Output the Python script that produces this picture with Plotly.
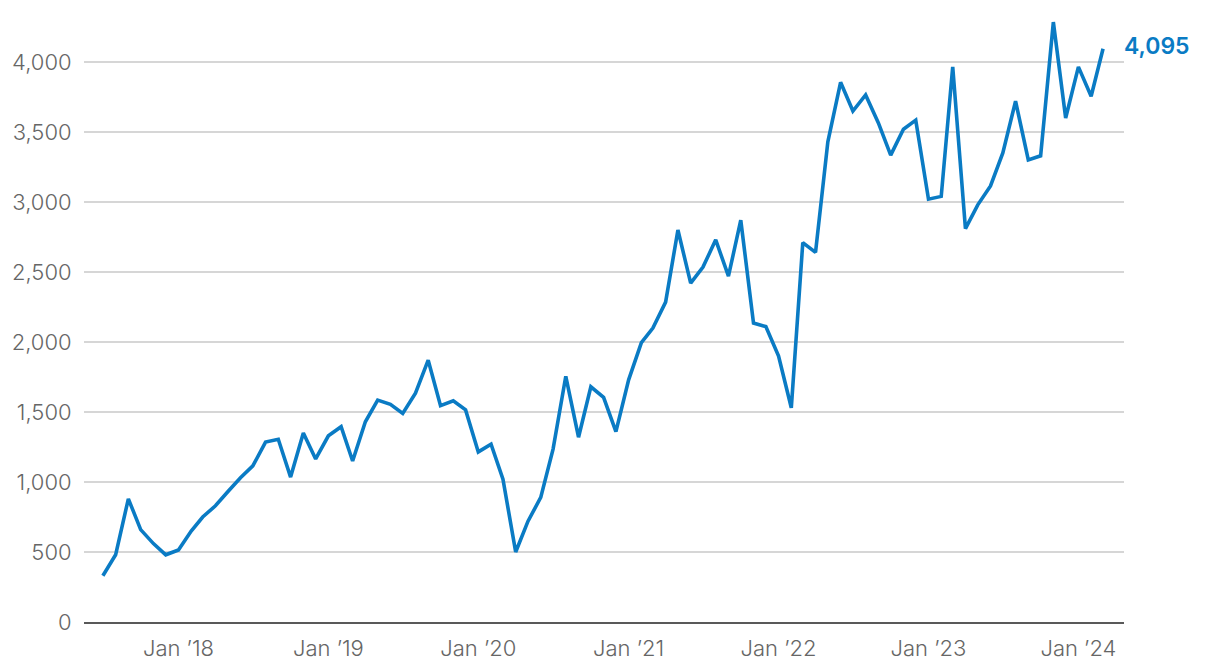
import plotly.graph_objects as go
import pandas as pd

months = pd.date_range("2017-07-01", "2024-03-01", freq="MS").strftime("%Y-%m-%d").tolist()
values = [
    330, 480, 880, 660, 560, 480, 515, 650, 750, 830, 930, 1030,
    1115, 1285, 1305, 1035, 1350, 1165, 1330, 1395, 1150, 1430, 1585, 1555,
    1490, 1635, 1870, 1545, 1580, 1515, 1215, 1270, 1020, 500, 720, 890,
    1235, 1755, 1320, 1680, 1605, 1360, 1730, 1995, 2100, 2285, 2800, 2420,
    2535, 2730, 2470, 2870, 2135, 2110, 1900, 1530, 2710, 2640, 3430, 3855,
    3650, 3765, 3565, 3335, 3520, 3585, 3020, 3040, 3965, 2810, 2980, 3115,
    3350, 3720, 3300, 3330, 4285, 3600, 3965, 3755, 4095,
]
tick_dates = ["2018-01-01", "2019-01-01", "2020-01-01", "2021-01-01",
              "2022-01-01", "2023-01-01", "2024-01-01"]
tick_labels = ["Jan \u201918", "Jan \u201919", "Jan \u201920", "Jan \u201921",
               "Jan \u201922", "Jan \u201923", "Jan \u201924"]
y_ticks = [0, 500, 1000, 1500, 2000, 2500, 3000, 3500, 4000]
last_label = "4,095"

blue = "#0a7bc4"

fig = go.Figure()
fig.add_trace(go.Scatter(
    x=months, y=values, mode="lines",
    line=dict(color=blue, width=3.6),
    hoverinfo="skip", showlegend=False,
))
fig.add_annotation(
    x=months[-1], y=values[-1], text=last_label,
    showarrow=False, xanchor="left", yanchor="middle", xshift=19, yshift=3,
    font=dict(color=blue, size=23, family="Inter, Roboto, sans-serif", weight=600),
)
fig.update_layout(
    width=1220, height=668,
    margin=dict(l=76, r=104, t=5, b=54, autoexpand=False),
    plot_bgcolor="white", paper_bgcolor="white",
    font=dict(family="Inter, Roboto, sans-serif", size=22, color="#666666", weight=300),
)
fig.update_xaxes(
    type="date", range=["2017-05-16", "2024-04-21"],
    tickvals=tick_dates, ticktext=tick_labels,
    showgrid=False, showline=True, linecolor="#595959", linewidth=2,
    ticks="outside", ticklen=6, tickcolor="rgba(0,0,0,0)",
    zeroline=False, automargin=False,
)
fig.update_yaxes(
    range=[0, 4350], tickvals=y_ticks, tickformat=",",
    showgrid=True, gridcolor="#d6d6d6", gridwidth=1.5,
    zeroline=False, showline=False, automargin=False,
    ticks="outside", ticklen=7, tickcolor="rgba(0,0,0,0)",
)
fig.write_html("out.html")
